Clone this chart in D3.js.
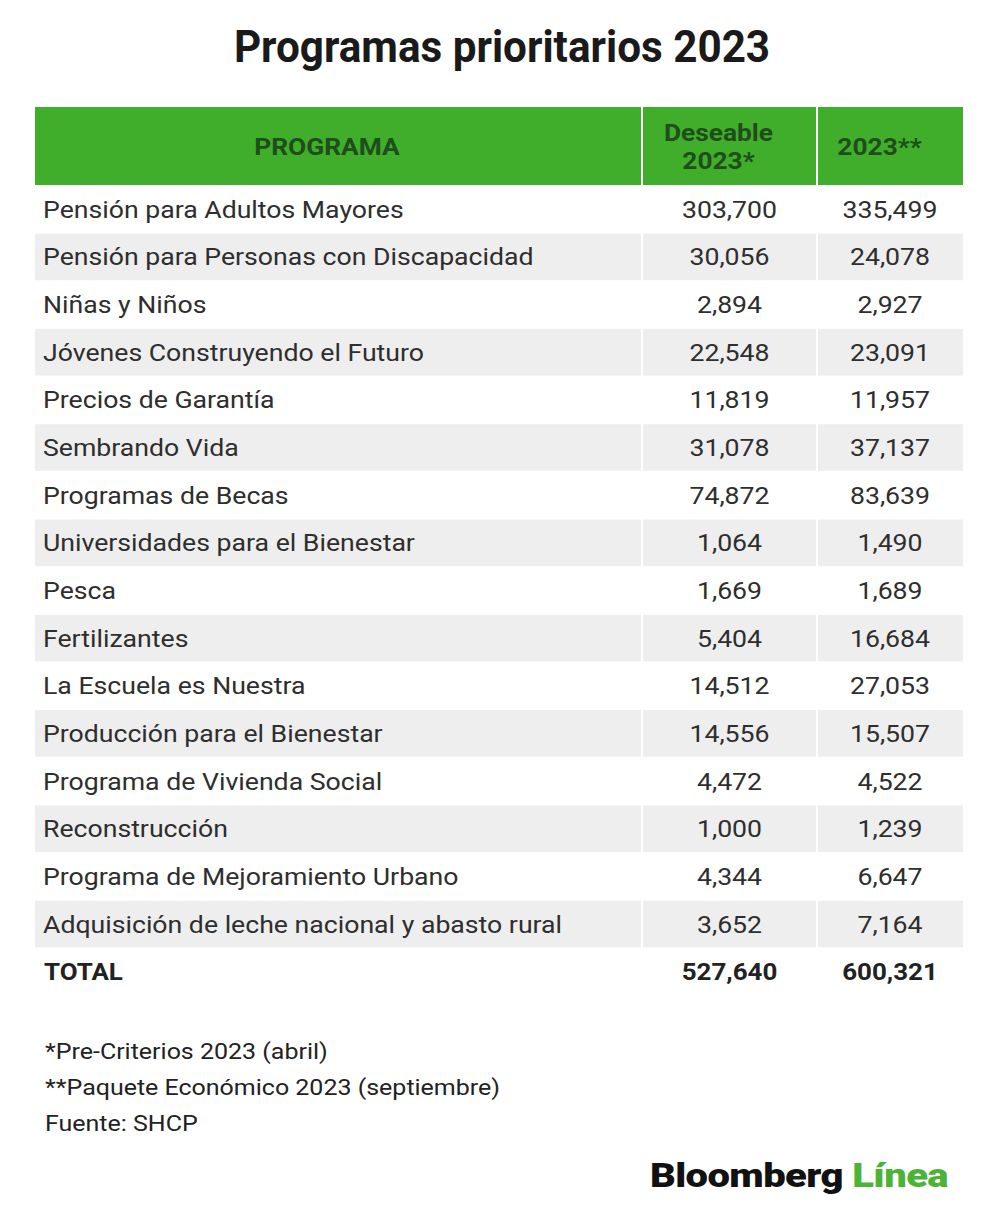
<!DOCTYPE html>
<html><head><meta charset="utf-8">
<script src="https://cdn.jsdelivr.net/npm/d3@7"></script>
<style>body{margin:0;background:#fff}svg{display:block}text{font-family:Roboto,"Noto Sans",sans-serif}</style>
</head><body>
<svg id="c" width="1000" height="1228"></svg>
<script>
const title = "Programas prioritarios 2023";
const headers = [["PROGRAMA"], ["Deseable", "2023*"], ["2023**"]];
const programas = ["Pensión para Adultos Mayores","Pensión para Personas con Discapacidad","Niñas y Niños","Jóvenes Construyendo el Futuro","Precios de Garantía","Sembrando Vida","Programas de Becas","Universidades para el Bienestar","Pesca","Fertilizantes","La Escuela es Nuestra","Producción para el Bienestar","Programa de Vivienda Social","Reconstrucción","Programa de Mejoramiento Urbano","Adquisición de leche nacional y abasto rural"];
const deseable = [303700,30056,2894,22548,11819,31078,74872,1064,1669,5404,14512,14556,4472,1000,4344,3652];
const paquete = [335499,24078,2927,23091,11957,37137,83639,1490,1689,16684,27053,15507,4522,1239,6647,7164];
const totalLabel = "TOTAL";
const totals = [527640, 600321];
const notes = ["*Pre-Criterios 2023 (abril)","**Paquete Económico 2023 (septiembre)","Fuente: SHCP"];

const svg = d3.select("#c");
const SQ = 1.11; // horizontal stretch of glyphs
const fmt = d3.format(",");
function stretch(sel, f) {
  sel.each(function(){ const w = this.getComputedTextLength(); d3.select(this).attr("textLength", w*(f||SQ)).attr("lengthAdjust","spacingAndGlyphs"); });
}
const colEdges = [35, 642, 817, 963];
const gap = 2;
const rows = d3.range(programas.length + 1);
const y = d3.scaleBand().domain(rows).range([186, 996]);
const headerTop = 107, headerBot = 185;

// title
svg.append("text").attr("x", 502).attr("y", 62).attr("text-anchor","middle")
  .attr("font-size", 44).attr("font-weight", 700).attr("fill", "#1a1a1a").text(title).call(stretch, 0.96);

// header cells
const hdr = svg.append("g");
headers.forEach((h, i) => {
  const x0 = colEdges[i] + (i ? gap/2 : 0), x1 = colEdges[i+1] - (i < 2 ? gap/2 : 0);
  hdr.append("rect").attr("x", x0).attr("y", headerTop).attr("width", x1 - x0).attr("height", headerBot - headerTop).attr("fill", "#41ae2b");
  const cx = (x0 + x1)/2 - 11;
  const cy = (headerTop + headerBot)/2;
  h.forEach((line, j) => {
    hdr.append("text").attr("x", cx).attr("y", cy + 8.5 + (j - (h.length-1)/2)*28)
      .attr("text-anchor","middle").attr("font-size", 23.5).attr("font-weight", 700).attr("fill", "#1f4d1c")
      .text(line).call(stretch, 1.12);
  });
});

// body rows
const body = svg.append("g");
programas.forEach((p, i) => {
  if (i % 2 === 1) {
    [0,1,2].forEach(c => {
      const x0 = colEdges[c] + (c ? gap/2 : 0), x1 = colEdges[c+1] - (c < 2 ? gap/2 : 0);
      body.append("rect").attr("x", x0).attr("y", y(i)).attr("width", x1 - x0).attr("height", y.bandwidth() - 1).attr("fill", "#eeeeee");
    });
  }
  const by = y(i) + y.bandwidth()/2 + 8;
  body.append("text").attr("x", 43).attr("y", by).attr("font-size", 24).attr("fill", "#2e2e2e").text(p).call(stretch);
  [deseable[i], paquete[i]].forEach((v, c) => {
    body.append("text").attr("x", (colEdges[c+1] + colEdges[c+2])/2).attr("y", by).attr("text-anchor","middle")
      .attr("font-size", 24).attr("fill", "#2e2e2e").text(fmt(v)).call(stretch);
  });
});
// total row
const ti = programas.length;
const ty = y(ti) + y.bandwidth()/2 + 8;
body.append("text").attr("x", 44).attr("y", ty).attr("font-size", 24).attr("font-weight", 700).attr("fill", "#222").text(totalLabel).call(stretch, 1.08);
totals.forEach((v, c) => {
  body.append("text").attr("x", (colEdges[c+1] + colEdges[c+2])/2).attr("y", ty).attr("text-anchor","middle")
    .attr("font-size", 24).attr("font-weight", 700).attr("fill", "#222").text(fmt(v)).call(stretch, 1.08);
});

// notes
notes.forEach((n, i) => {
  svg.append("text").attr("x", 45).attr("y", 1059 + i*36).attr("font-size", 22.5).attr("fill", "#222").text(n).call(stretch);
});

// logo
const logo = svg.append("text").attr("x", 650).attr("y", 1187).attr("font-size", 34).attr("font-weight", 900).attr("letter-spacing", -0.5);
logo.append("tspan").attr("fill", "#111").text("Bloomberg");
logo.append("tspan").attr("fill", "#4bb336").attr("dx", 8).text("Línea");
logo.call(stretch, 1.0);
(function(){ const node = logo.node(); const w = node.getComputedTextLength(); logo.attr("textLength", w * 298 / (w + 0)).attr("lengthAdjust","spacingAndGlyphs"); })();
</script>
</body></html>
